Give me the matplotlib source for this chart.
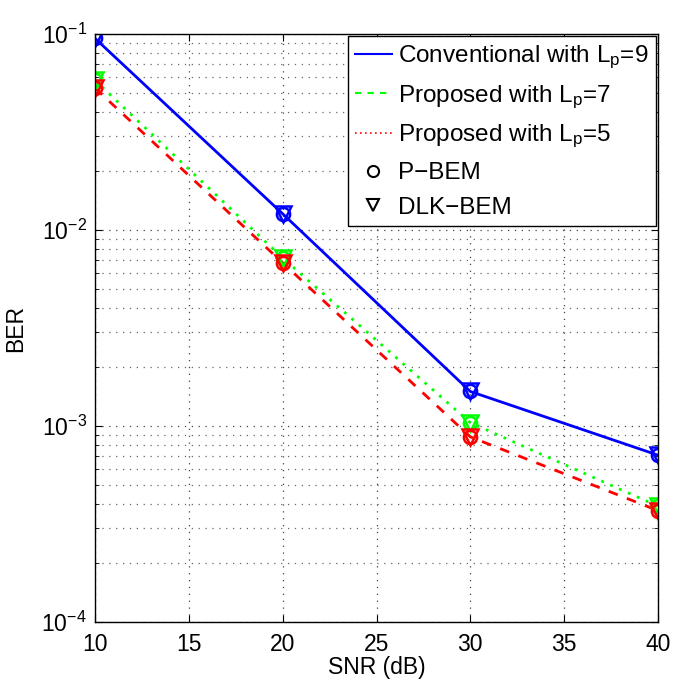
import matplotlib
matplotlib.use("Agg")
import matplotlib.pyplot as plt
from matplotlib.lines import Line2D
import numpy as np

plt.rcParams['font.family'] = ['Liberation Sans', 'DejaVu Sans']
plt.rcParams['mathtext.fontset'] = 'custom'
plt.rcParams['mathtext.rm'] = 'Liberation Sans'
plt.rcParams['mathtext.it'] = 'Liberation Sans'
plt.rcParams['mathtext.default'] = 'regular'

snr = [10, 20, 30, 40]
ber_conv9 = [0.095, 0.0121, 0.00150, 0.00071]
ber_prop7 = [0.058, 0.0072, 0.00104, 0.00039]
ber_prop5 = [0.053, 0.0068, 0.00088, 0.00037]

xticks = [10, 15, 20, 25, 30, 35, 40]

fig = plt.figure(figsize=(6.73, 6.80), dpi=100)
ax = fig.add_axes([95 / 673, 1 - 622 / 680, (658 - 95) / 673, (622 - 34) / 680])

grid_ls = (0, (1, 4.5))
ax.set_axisbelow(True)

ms = 9.5
mew = 1.8
for y, c, ls in [(ber_conv9, 'blue', '-'), (ber_prop5, 'red', (0, (3.5, 3.5))), (ber_prop7, '#00ff00', (0, (1, 2.5)))]:
    ax.plot(snr, y, color=c, linestyle=ls, linewidth=2)
for y, c in [(ber_conv9, 'blue'), (ber_prop7, '#00ff00'), (ber_prop5, 'red')]:
    ax.plot(snr, y, linestyle='none', marker='o', markersize=ms, markerfacecolor='none',
            markeredgecolor=c, markeredgewidth=mew)
    ax.plot(snr, y, linestyle='none', marker='v', markersize=ms + 1.5, markerfacecolor='none',
            markeredgecolor=c, markeredgewidth=mew)

ax.set_yscale('log')
ax.set_xlim(10, 40)
ax.set_ylim(1e-4, 1e-1)
ax.set_xticks(xticks)
ax.set_xticklabels([str(t) for t in xticks])
ax.tick_params(which='both', direction='in', top=True, right=True, labelsize=16.5)
ax.tick_params(axis='x', which='major', pad=8)
ax.tick_params(axis='y', which='major', pad=6)
ax.tick_params(which='major', length=5)
ax.tick_params(which='minor', length=3)
ax.grid(True, which='major', linestyle=grid_ls, color='#444444', linewidth=0.9)
ax.grid(True, which='minor', axis='y', linestyle=grid_ls, color='#666666', linewidth=0.9)
for s in ax.spines.values():
    s.set_linewidth(1.0)

ax.set_xlabel('SNR (dB)', fontsize=16.5, labelpad=0)
ax.set_ylabel('BER', fontsize=16.5, labelpad=10)

handles = [
    Line2D([], [], color='blue', linestyle='-', linewidth=1.5),
    Line2D([], [], color='#00ff00', linestyle=(0, (3, 3)), linewidth=1.5),
    Line2D([], [], color='red', linestyle=(0, (1, 2)), linewidth=1.2),
    Line2D([], [], color='black', linestyle='none', marker='o', markerfacecolor='none', markersize=8, markeredgewidth=1.5),
    Line2D([], [], color='black', linestyle='none', marker='v', markerfacecolor='none', markersize=9, markeredgewidth=1.5),
]
labels = ['Conventional with L$_\\mathrm{p}$=9', 'Proposed with L$_\\mathrm{p}$=7',
          'Proposed with L$_\\mathrm{p}$=5', 'P\u2212BEM', 'DLK\u2212BEM']
leg = ax.legend(handles, labels, loc='upper right', fontsize=17.5, fancybox=False, framealpha=1,
                edgecolor='black', handlelength=1.5, handletextpad=0.25, borderpad=0.3,
                labelspacing=0.5, borderaxespad=0.1)
leg.get_frame().set_linewidth(1.0)

fig.savefig('out.png', dpi=100)
